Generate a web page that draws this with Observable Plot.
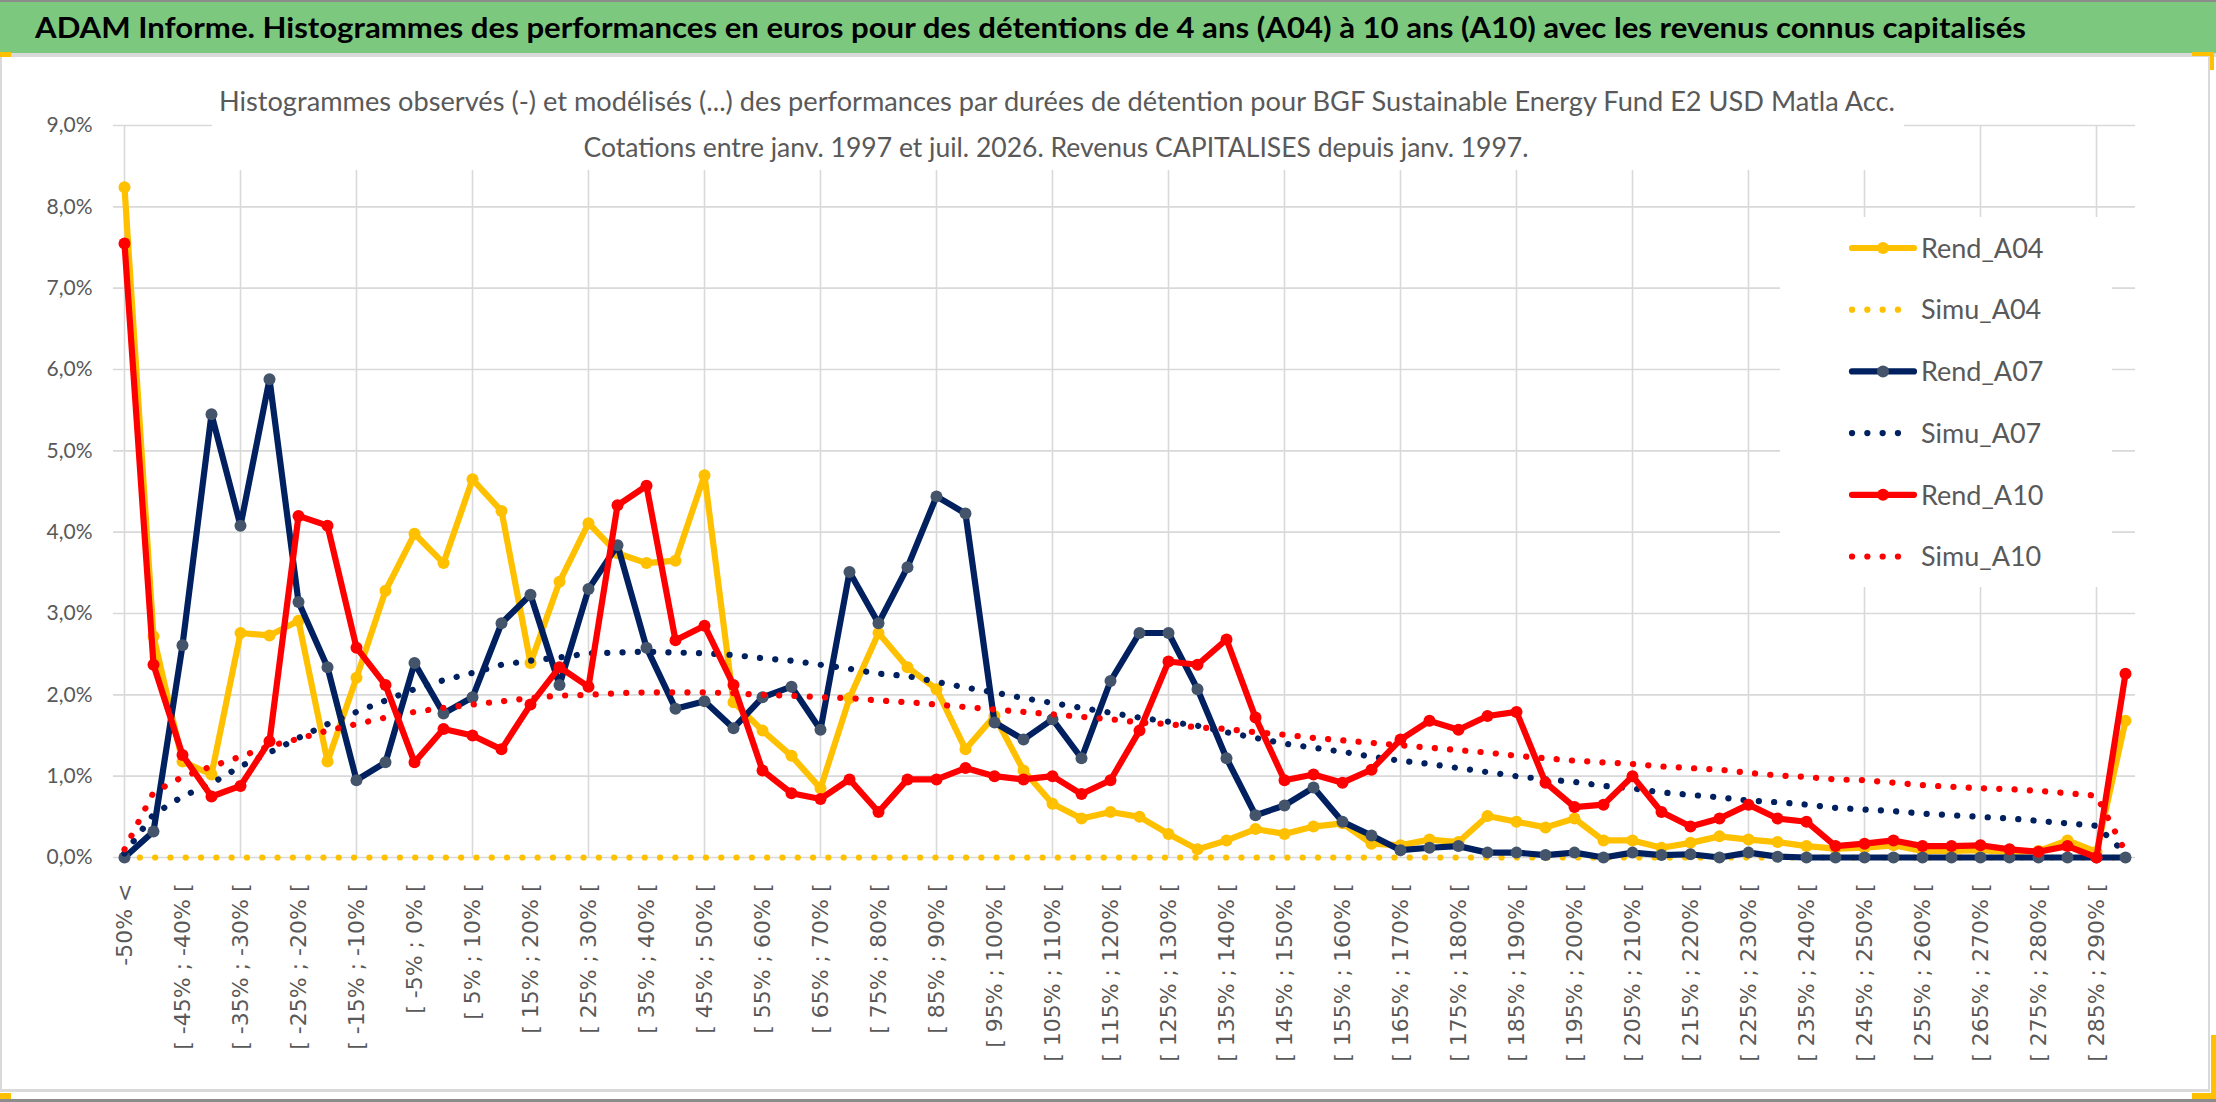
<!DOCTYPE html>
<html><head><meta charset="utf-8">
<script src="https://cdn.jsdelivr.net/npm/d3@7"></script>
<script src="https://cdn.jsdelivr.net/npm/@observablehq/plot@0.6"></script>
<style>
html,body{margin:0;padding:0;background:#fff;}
body{width:2216px;height:1102px;position:relative;overflow:hidden;}
#header{position:absolute;left:0;top:0;}
#chart{position:absolute;left:0;top:57px;color:#595959;}
#overlay{position:absolute;left:0;top:0;pointer-events:none;}
</style></head>
<body>
<svg id="header" width="2216" height="57"></svg>
<div id="chart"></div>
<svg id="overlay" width="2216" height="1102"></svg>
<script>
// ---------- DATA ----------
const titleText = "ADAM Informe. Histogrammes des performances en euros pour des détentions de 4 ans (A04) à 10 ans (A10) avec les revenus connus capitalisés";
const subtitleLines = [
  "Histogrammes observés (-) et modélisés (...) des performances par durées de détention pour BGF Sustainable Energy Fund E2 USD Matla Acc.",
  "Cotations entre janv. 1997 et juil. 2026. Revenus CAPITALISES depuis janv. 1997."
];
const categories = [
  "-50% <","[ -50% ; -45% [","[ -45% ; -40% [","[ -40% ; -35% [","[ -35% ; -30% [","[ -30% ; -25% [",
  "[ -25% ; -20% [","[ -20% ; -15% [","[ -15% ; -10% [","[ -10% ; -5% [","[ -5% ; 0% [","[ 0% ; 5% [",
  "[ 5% ; 10% [","[ 10% ; 15% [","[ 15% ; 20% [","[ 20% ; 25% [","[ 25% ; 30% [","[ 30% ; 35% [",
  "[ 35% ; 40% [","[ 40% ; 45% [","[ 45% ; 50% [","[ 50% ; 55% [","[ 55% ; 60% [","[ 60% ; 65% [",
  "[ 65% ; 70% [","[ 70% ; 75% [","[ 75% ; 80% [","[ 80% ; 85% [","[ 85% ; 90% [","[ 90% ; 95% [",
  "[ 95% ; 100% [","[ 100% ; 105% [","[ 105% ; 110% [","[ 110% ; 115% [","[ 115% ; 120% [","[ 120% ; 125% [",
  "[ 125% ; 130% [","[ 130% ; 135% [","[ 135% ; 140% [","[ 140% ; 145% [","[ 145% ; 150% [","[ 150% ; 155% [",
  "[ 155% ; 160% [","[ 160% ; 165% [","[ 165% ; 170% [","[ 170% ; 175% [","[ 175% ; 180% [","[ 180% ; 185% [",
  "[ 185% ; 190% [","[ 190% ; 195% [","[ 195% ; 200% [","[ 200% ; 205% [","[ 205% ; 210% [","[ 210% ; 215% [",
  "[ 215% ; 220% [","[ 220% ; 225% [","[ 225% ; 230% [","[ 230% ; 235% [","[ 235% ; 240% [","[ 240% ; 245% [",
  "[ 245% ; 250% [","[ 250% ; 255% [","[ 255% ; 260% [","[ 260% ; 265% [","[ 265% ; 270% [","[ 270% ; 275% [",
  "[ 275% ; 280% [","[ 280% ; 285% [","[ 285% ; 290% [","290% >="
];
const rendA04 = [8.24,2.72,1.18,1.02,2.76,2.73,2.91,1.18,2.21,3.28,3.98,3.62,4.65,4.26,2.39,3.39,4.11,3.74,3.62,3.65,
  4.70,1.91,1.56,1.25,0.85,1.96,2.76,2.34,2.07,1.33,1.74,1.07,0.66,0.48,0.56,0.50,0.29,0.10,0.21,0.35,
  0.29,0.38,0.42,0.17,0.15,0.22,0.19,0.51,0.44,0.37,0.48,0.21,0.21,0.12,0.18,0.26,0.22,0.19,0.14,0.11,
  0.12,0.15,0.08,0.08,0.09,0.07,0.08,0.21,0.07,1.68];
const simuA04 = [0,0,0,0,0,0,0,0,0,0,0,0,0,0,0,0,0,0,0,0,0,0,0,0,0,0,0,0,0,0,0,0,0,0,0,
  0,0,0,0,0,0,0,0,0,0,0,0,0,0,0,0,0,0,0,0,0,0,0,0,0,0,0,0,0,0,0,0,0,0,0];
const rendA07 = [0.00,0.32,2.61,5.45,4.08,5.88,3.14,2.34,0.95,1.17,2.39,1.77,1.97,2.88,3.23,2.12,3.30,3.84,2.58,1.83,
  1.92,1.59,1.97,2.10,1.57,3.51,2.88,3.57,4.44,4.23,1.66,1.45,1.70,1.22,2.17,2.76,2.76,2.07,1.22,0.52,
  0.64,0.86,0.44,0.27,0.09,0.12,0.14,0.06,0.06,0.03,0.06,0.00,0.06,0.03,0.04,0.00,0.06,0.01,0.00,0.00,
  0.00,0.00,0.00,0.00,0.00,0.00,0.00,0.00,0.00,0.00];
const simuA07 = [0.05,0.53,0.75,0.91,1.12,1.29,1.47,1.64,1.79,1.93,2.07,2.18,2.27,2.37,2.42,2.46,2.51,2.52,2.53,2.52,
  2.51,2.49,2.45,2.42,2.37,2.32,2.26,2.23,2.16,2.09,2.03,1.96,1.90,1.84,1.78,1.72,1.67,1.62,1.54,1.47,
  1.40,1.35,1.30,1.24,1.19,1.15,1.10,1.05,1.00,0.96,0.93,0.88,0.85,0.80,0.77,0.74,0.70,0.68,0.65,0.61,
  0.59,0.57,0.54,0.52,0.50,0.48,0.45,0.42,0.39,0.05];
const rendA10 = [7.55,2.37,1.26,0.75,0.88,1.43,4.20,4.08,2.58,2.12,1.17,1.58,1.50,1.33,1.88,2.34,2.10,4.33,4.57,2.67,
  2.85,2.12,1.07,0.79,0.72,0.96,0.56,0.96,0.96,1.10,1.00,0.96,1.00,0.78,0.95,1.56,2.41,2.37,2.68,1.72,
  0.95,1.02,0.92,1.08,1.45,1.68,1.57,1.74,1.79,0.92,0.62,0.65,1.00,0.56,0.38,0.48,0.65,0.48,0.44,0.14,
  0.17,0.21,0.14,0.14,0.15,0.10,0.07,0.14,0.00,2.26];
const simuA10 = [0.10,0.80,0.99,1.12,1.24,1.37,1.46,1.56,1.64,1.72,1.79,1.84,1.88,1.92,1.96,1.99,2.00,2.02,2.03,2.03,
  2.03,2.02,2.00,1.99,1.97,1.96,1.93,1.91,1.88,1.85,1.82,1.79,1.76,1.73,1.70,1.66,1.64,1.60,1.58,1.54,
  1.51,1.47,1.44,1.41,1.38,1.35,1.32,1.29,1.25,1.22,1.19,1.17,1.15,1.12,1.10,1.08,1.04,1.01,0.99,0.96,
  0.95,0.92,0.89,0.87,0.85,0.84,0.82,0.79,0.76,0.07];
const seriesNames = ["Rend_A04","Simu_A04","Rend_A07","Simu_A07","Rend_A10","Simu_A10"];
const yTicks = [0,1,2,3,4,5,6,7,8,9];

// ---------- STYLE ----------
const seriesValues = {Rend_A04: rendA04, Simu_A04: simuA04, Rend_A07: rendA07, Simu_A07: simuA07, Rend_A10: rendA10, Simu_A10: simuA10};
const seriesStyle = {
  Rend_A04: {stroke: "#FFC000", marker: "#FFC000", dotted: false},
  Simu_A04: {stroke: "#FFC000", dotted: true},
  Rend_A07: {stroke: "#002060", marker: "#44546A", dotted: false},
  Simu_A07: {stroke: "#002060", dotted: true},
  Rend_A10: {stroke: "#FF0000", marker: "#FF0000", dotted: false},
  Simu_A10: {stroke: "#FF0000", dotted: true}
};
const GRID = "#D9D9D9";
const TEXT = "#595959";
const DOTS = "0.1 15.2";
const LW = 6.2;

const tickLabels = categories.filter((d, i) => i % 2 === 0);
const gridCats = categories.filter((d, i) => i % 4 === 0);

const marks = [
  Plot.ruleY(yTicks, {stroke: GRID, strokeWidth: 1.6}),
  Plot.ruleX(gridCats, {y1: 0, y2: 9, stroke: GRID, strokeWidth: 1.6}),
  Plot.axisY({ticks: yTicks, tickSize: 0, tickPadding: 21, label: null,
    tickFormat: d => d.toFixed(1).replace(".", ",") + "%", fontSize: 21, fontFamily: "Lato"}),
  Plot.axisX({ticks: tickLabels, tickSize: 0, tickPadding: 26, tickRotate: -90, label: null,
    fontSize: 22, fontFamily: "DejaVu Sans"})
];
for (const name of seriesNames) {
  const vals = seriesValues[name];
  const rows = categories.map((c, i) => ({cat: c, v: vals[i]}));
  const s = seriesStyle[name];
  if (s.dotted) {
    marks.push(Plot.line(rows, {x: "cat", y: "v", stroke: s.stroke, strokeWidth: LW,
      strokeDasharray: DOTS, strokeLinecap: "round"}));
  } else {
    marks.push(Plot.line(rows, {x: "cat", y: "v", stroke: s.stroke, strokeWidth: LW,
      strokeLinejoin: "round", strokeLinecap: "round"}));
    marks.push(Plot.dot(rows, {x: "cat", y: "v", r: 6, fill: s.marker, stroke: "none"}));
  }
}

const chart = Plot.plot({
  width: 2216, height: 1045,
  marginLeft: 113, marginRight: 81, marginTop: 68, marginBottom: 245,
  x: {type: "point", domain: categories, padding: 0, axis: null},
  y: {domain: [0, 9], axis: null},
  style: {background: "transparent", overflow: "visible", color: TEXT},
  marks
});
document.getElementById("chart").appendChild(chart);

// ---------- HEADER (title band) ----------
const NS = "http://www.w3.org/2000/svg";
function el(parent, tag, attrs, text) {
  const e = document.createElementNS(NS, tag);
  for (const k in attrs) e.setAttribute(k, attrs[k]);
  if (text !== undefined) e.textContent = text;
  parent.appendChild(e);
  return e;
}
const header = document.getElementById("header");
el(header, "rect", {x: 0, y: 0, width: 2216, height: 2, fill: "#8C8C8C"});
el(header, "rect", {x: 0, y: 2, width: 2216, height: 51, fill: "#7DC87F"});
el(header, "rect", {x: 0, y: 53, width: 2216, height: 4, fill: "#D9D9D9"});
el(header, "text", {x: 35, y: 38, "font-family": "Lato", "font-weight": 700, "font-size": 28, fill: "#000",
  textLength: 1991, lengthAdjust: "spacingAndGlyphs"}, titleText);

// ---------- OVERLAY (subtitle box, legend, frame) ----------
const ov = document.getElementById("overlay");
el(ov, "rect", {x: 0, y: 57, width: 2, height: 1035, fill: GRID});
el(ov, "rect", {x: 2208, y: 57, width: 2, height: 1035, fill: GRID});
el(ov, "rect", {x: 0, y: 1089, width: 2210, height: 3, fill: GRID});
el(ov, "rect", {x: 0, y: 1099, width: 2216, height: 3, fill: "#8C8C8C"});
el(ov, "rect", {x: 0, y: 52, width: 11, height: 5, fill: "#FFC000"});
el(ov, "rect", {x: 2192, y: 52, width: 22, height: 4, fill: "#FFC000"});
el(ov, "rect", {x: 2210, y: 52, width: 4, height: 18, fill: "#FFC000"});
el(ov, "rect", {x: 0, y: 1093, width: 11, height: 6, fill: "#FFC000"});
el(ov, "rect", {x: 2211, y: 1035, width: 5, height: 64, fill: "#FFC000"});
el(ov, "rect", {x: 2192, y: 1093, width: 24, height: 6, fill: "#FFC000"});

el(ov, "rect", {x: 212, y: 60, width: 1692, height: 110, fill: "#fff"});
el(ov, "text", {x: 1057, y: 111, "text-anchor": "middle", "font-family": "Lato", "font-size": 27, fill: TEXT,
  textLength: 1676, lengthAdjust: "spacingAndGlyphs"}, subtitleLines[0]);
el(ov, "text", {x: 1056, y: 157, "text-anchor": "middle", "font-family": "Lato", "font-size": 27, fill: TEXT,
  textLength: 945, lengthAdjust: "spacingAndGlyphs"}, subtitleLines[1]);

el(ov, "rect", {x: 1780, y: 217, width: 332, height: 370, fill: "#fff"});
seriesNames.forEach((name, i) => {
  const s = seriesStyle[name];
  const cy = 248 + i * 61.7;
  if (s.dotted) {
    el(ov, "line", {x1: 1852, x2: 1912, y1: cy, y2: cy, stroke: s.stroke, "stroke-width": LW,
      "stroke-dasharray": DOTS, "stroke-linecap": "round"});
  } else {
    el(ov, "line", {x1: 1852, x2: 1914, y1: cy, y2: cy, stroke: s.stroke, "stroke-width": LW, "stroke-linecap": "round"});
    el(ov, "circle", {cx: 1883, cy: cy, r: 6, fill: s.marker});
  }
  el(ov, "text", {x: 1921, y: cy, dy: "0.36em", "font-family": "Lato", "font-size": 27, fill: TEXT}, name);
});
</script>
</body></html>
